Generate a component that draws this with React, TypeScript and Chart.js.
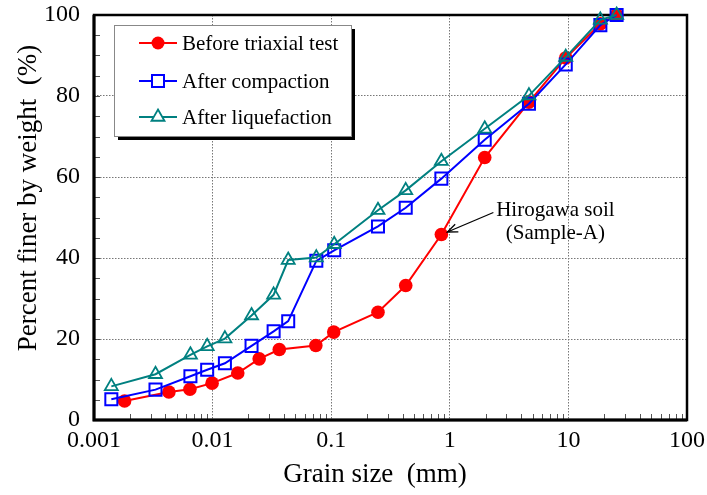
import React, { useEffect, useRef } from 'react';
import { Chart, registerables } from 'chart.js';

Chart.register(...registerables);

// ---- data ----
const grainBefore = [0.00181, 0.00428, 0.00644, 0.0099, 0.0163, 0.0247, 0.0365, 0.0742, 0.105, 0.248, 0.425, 0.849, 1.97, 4.65, 9.5, 18.6, 25.5];
const percentBefore = [4.7, 6.9, 7.6, 9.1, 11.6, 15.1, 17.4, 18.4, 21.7, 26.6, 33.2, 45.8, 64.8, 78.5, 89.4, 97.8, 100];

const grainAfter = [0.0014, 0.0033, 0.0065, 0.009, 0.0127, 0.0213, 0.0327, 0.0434, 0.0749, 0.106, 0.248, 0.425, 0.849, 1.97, 4.65, 9.5, 18.6, 25.5];
const percentCompaction = [5.1, 7.5, 10.8, 12.4, 14.0, 18.3, 21.9, 24.4, 39.3, 41.9, 47.8, 52.4, 59.6, 69.2, 78.1, 87.8, 97.5, 100];
const percentLiquefaction = [8.3, 11.3, 16.1, 18.2, 20.1, 25.8, 30.9, 39.5, 40.1, 43.4, 51.8, 56.7, 63.9, 71.9, 80.1, 89.6, 98.8, 100];

const seriesNames = ['Before triaxial test', 'After compaction', 'After liquefaction'];
const seriesColors = ['#ff0000', '#0000ff', '#008080'];
const seriesMarkers = ['circle', 'rect', 'triangle'];

const xTickValues = [0.001, 0.01, 0.1, 1, 10, 100];
const xTickLabels = ['0.001', '0.01', '0.1', '1', '10', '100'];
const yTickValues = [0, 20, 40, 60, 80, 100];
const yMinorStep = 5;

const xTitle = 'Grain size\u00a0\u00a0(mm)';
const yTitle = 'Percent finer by weight\u00a0\u00a0(%)';
const annotationLines = ['Hirogawa soil', '(Sample-A)'];
const annotatedIndex = 11;

const FONT = "'Liberation Serif', 'Times New Roman', serif";

function drawMarker(ctx: CanvasRenderingContext2D, kind: string, x: number, y: number, color: string) {
  ctx.save();
  ctx.strokeStyle = color;
  ctx.fillStyle = color;
  ctx.beginPath();
  if (kind === 'circle') {
    ctx.arc(x, y, 6.5, 0, Math.PI * 2);
    ctx.fill();
  } else if (kind === 'rect') {
    ctx.lineWidth = 2;
    ctx.fillStyle = '#fff';
    ctx.rect(x - 6, y - 6, 12, 12);
    ctx.fill();
    ctx.stroke();
  } else {
    ctx.lineWidth = 1.8;
    ctx.fillStyle = '#fff';
    const r = 7.5;
    ctx.moveTo(x, y - r);
    ctx.lineTo(x + r * Math.sin((2 * Math.PI) / 3), y - r * Math.cos((2 * Math.PI) / 3));
    ctx.lineTo(x + r * Math.sin((4 * Math.PI) / 3), y - r * Math.cos((4 * Math.PI) / 3));
    ctx.closePath();
    ctx.fill();
    ctx.stroke();
  }
  ctx.restore();
}

const framePlugin = {
  id: 'frameAndMinor',
  beforeDatasetsDraw(chart: any) {
    const { ctx, chartArea } = chart;
    const xs = chart.scales.x;
    const ys = chart.scales.y;
    ctx.save();
    ctx.strokeStyle = '#555';
    ctx.lineWidth = 1;
    for (let d = -3; d <= 1; d++) {
      for (let m = 2; m <= 9; m++) {
        const px = Math.round(xs.getPixelForValue(m * Math.pow(10, d))) + 0.5;
        ctx.beginPath();
        ctx.moveTo(px, chartArea.bottom);
        ctx.lineTo(px, chartArea.bottom - 6);
        ctx.stroke();
      }
    }
    for (let v = yMinorStep; v < 100; v += yMinorStep) {
      const py = Math.round(ys.getPixelForValue(v)) + 0.5;
      ctx.beginPath();
      ctx.moveTo(chartArea.left, py);
      ctx.lineTo(chartArea.left + 6, py);
      ctx.stroke();
    }
    ctx.strokeStyle = '#000';
    ctx.lineWidth = 2.5;
    ctx.strokeRect(chartArea.left, chartArea.top, chartArea.right - chartArea.left, chartArea.bottom - chartArea.top);
    ctx.lineWidth = 3;
    ctx.beginPath();
    ctx.moveTo(chartArea.left, chartArea.top);
    ctx.lineTo(chartArea.left, chartArea.bottom);
    ctx.lineTo(chartArea.right, chartArea.bottom);
    ctx.stroke();
    ctx.restore();
  },
  afterDatasetsDraw(chart: any) {
    const { ctx } = chart;
    ctx.save();
    // legend
    const bx = 114, by = 25, bw = 237, bh = 111;
    ctx.fillStyle = '#000';
    ctx.fillRect(bx + 4, by + 4, bw, bh);
    ctx.fillStyle = '#fff';
    ctx.fillRect(bx, by, bw, bh);
    ctx.strokeStyle = '#888';
    ctx.lineWidth = 1;
    ctx.strokeRect(bx + 0.5, by + 0.5, bw, bh);
    ctx.font = `21px ${FONT}`;
    ctx.textBaseline = 'middle';
    ctx.textAlign = 'left';
    const rows = [43, 81, 117];
    seriesNames.forEach((name, i) => {
      const y = rows[i];
      ctx.strokeStyle = seriesColors[i];
      ctx.lineWidth = 2;
      ctx.beginPath();
      ctx.moveTo(139, y);
      ctx.lineTo(177, y);
      ctx.stroke();
      drawMarker(ctx, seriesMarkers[i], 158, y, seriesColors[i]);
      ctx.fillStyle = '#000';
      ctx.fillText(name, 182, y + 1);
    });

    // annotation
    const pt = chart.getDatasetMeta(0).data[annotatedIndex];
    if (pt) {
      const tipX = pt.x + 6, tipY = pt.y - 2.5;
      const tailX = pt.x + 52, tailY = pt.y - 22;
      ctx.strokeStyle = '#000';
      ctx.lineWidth = 1.3;
      ctx.beginPath();
      ctx.moveTo(tailX, tailY);
      ctx.lineTo(tipX, tipY);
      ctx.stroke();
      const ang = Math.atan2(tipY - tailY, tipX - tailX);
      const L = 11, a = 0.38;
      ctx.beginPath();
      ctx.moveTo(tipX - L * Math.cos(ang - a), tipY - L * Math.sin(ang - a));
      ctx.lineTo(tipX, tipY);
      ctx.lineTo(tipX - L * Math.cos(ang + a), tipY - L * Math.sin(ang + a));
      ctx.stroke();
      ctx.fillStyle = '#000';
      ctx.font = `21px ${FONT}`;
      ctx.textAlign = 'center';
      ctx.fillText(annotationLines[0], pt.x + 114, pt.y - 24);
      ctx.fillText(annotationLines[1], pt.x + 114, pt.y - 1);
    }

    // axis titles
    ctx.font = `27px ${FONT}`;
    ctx.fillStyle = '#000';
    ctx.textAlign = 'center';
    ctx.textBaseline = 'middle';
    ctx.fillText(xTitle, 375, 475);
    ctx.translate(29, 198);
    ctx.rotate(-Math.PI / 2);
    ctx.fillText(yTitle, 0, 0);
    ctx.restore();
  },
};

export default function App() {
  const canvasRef = useRef<HTMLCanvasElement | null>(null);

  useEffect(() => {
    const canvas = canvasRef.current;
    if (!canvas) return;
    const mk = (xs: number[], ys: number[]) => xs.map((x, i) => ({ x, y: ys[i] }));
    const series = [
      mk(grainBefore, percentBefore),
      mk(grainAfter, percentCompaction),
      mk(grainAfter, percentLiquefaction),
    ];
    const zeroPad = (scale: any) => {
      scale.paddingTop = 0;
      scale.paddingBottom = 0;
      scale.paddingLeft = 0;
      scale.paddingRight = 0;
    };
    const chart = new Chart(canvas, {
      type: 'line',
      data: {
        datasets: series.map((d, i) => ({
          label: seriesNames[i],
          data: d,
          borderColor: seriesColors[i],
          backgroundColor: i === 0 ? seriesColors[i] : '#ffffff',
          pointBackgroundColor: i === 0 ? seriesColors[i] : 'rgba(255,255,255,0)',
          pointBorderColor: seriesColors[i],
          pointStyle: seriesMarkers[i] as any,
          pointRadius: i === 0 ? 6.8 : i === 1 ? 8.5 : 7.5,
          pointBorderWidth: i === 0 ? 0 : i === 1 ? 2 : 1.8,
          borderWidth: 2,
          tension: 0,
          fill: false,
          clip: false as any,
          order: 3 - i,
        })),
      },
      options: {
        animation: false,
        responsive: false,
        events: [],
        layout: { padding: { top: 15, right: 20, left: 0, bottom: 0 } },
        plugins: { legend: { display: false }, tooltip: { enabled: false } },
        scales: {
          x: {
            type: 'logarithmic',
            min: 0.001,
            max: 100,
            afterBuildTicks: (scale: any) => {
              scale.ticks = xTickValues.map((v) => ({ value: v }));
            },
            afterFit: (scale: any) => {
              scale.height = 75;
              zeroPad(scale);
            },
            ticks: {
              autoSkip: false,
              maxRotation: 0,
              padding: 6,
              color: '#000',
              font: { family: FONT, size: 24 },
              callback: (v: any) => {
                const idx = xTickValues.findIndex((t) => Math.abs(t - Number(v)) < t * 1e-6);
                return idx >= 0 ? xTickLabels[idx] : '';
              },
            },
            grid: { color: '#777', lineWidth: 1, drawTicks: false },
            border: { display: false, dash: [1.5, 1.5] },
            title: { display: false },
          },
          y: {
            type: 'linear',
            min: 0,
            max: 100,
            afterBuildTicks: (scale: any) => {
              scale.ticks = yTickValues.map((v) => ({ value: v }));
            },
            afterFit: (scale: any) => {
              scale.width = 94;
              zeroPad(scale);
            },
            ticks: {
              padding: 14,
              color: '#000',
              font: { family: FONT, size: 24 },
            },
            grid: { color: '#777', lineWidth: 1, drawTicks: false },
            border: { display: false, dash: [1.5, 1.5] },
            title: { display: false },
          },
        },
      },
      plugins: [framePlugin],
    } as any);
    return () => chart.destroy();
  }, []);

  return (
    <div style={{ position: 'absolute', left: 0, top: 0, width: 707, height: 495, background: '#fff' }}>
      <canvas ref={canvasRef} width={707} height={495} style={{ display: 'block' }} />
    </div>
  );
}
